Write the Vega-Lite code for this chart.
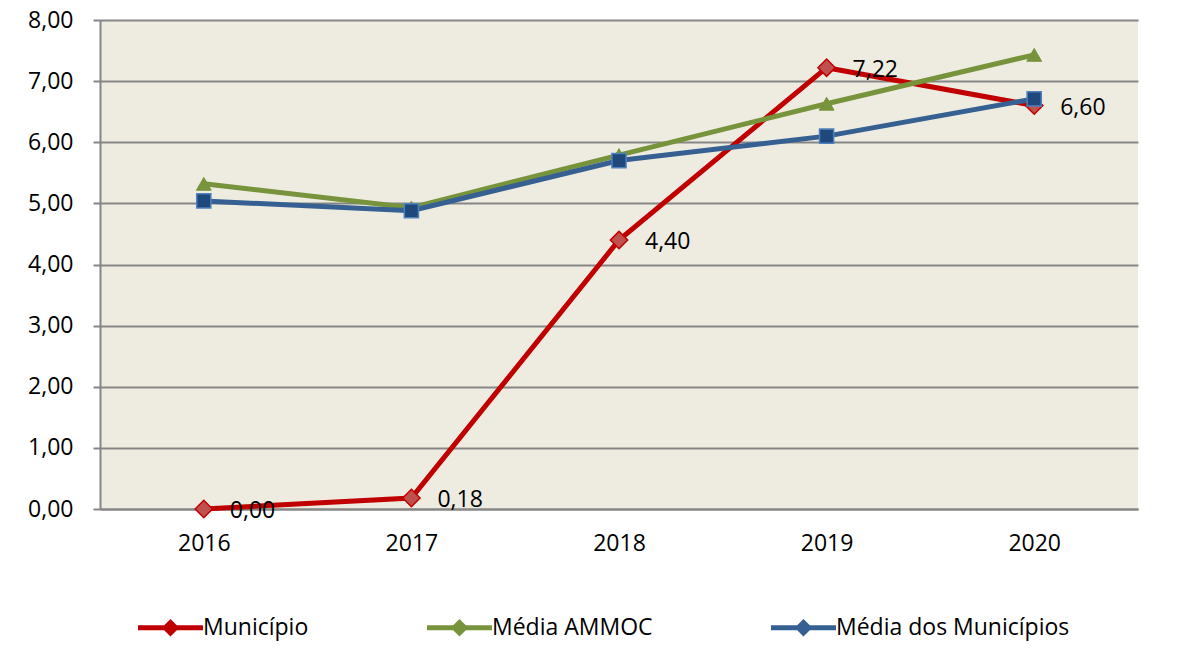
{
  "$schema": "https://vega.github.io/schema/vega-lite/v6.json",
  "width": 1038,
  "height": 489,
  "autosize": {"type": "none"},
  "padding": {"left": 100, "top": 20, "right": 65, "bottom": 152},
  "background": "#FFFFFF",
  "config": {
    "view": {"fill": "#EEECE1", "stroke": null},
    "font": "Open Sans"
  },
  "data": {
    "values": [
      {"year": "2016", "series": "Município", "v": 0.0},
      {"year": "2017", "series": "Município", "v": 0.18},
      {"year": "2018", "series": "Município", "v": 4.40},
      {"year": "2019", "series": "Município", "v": 7.22},
      {"year": "2020", "series": "Município", "v": 6.60},
      {"year": "2016", "series": "Média AMMOC", "v": 5.32},
      {"year": "2017", "series": "Média AMMOC", "v": 4.93},
      {"year": "2018", "series": "Média AMMOC", "v": 5.79},
      {"year": "2019", "series": "Média AMMOC", "v": 6.63},
      {"year": "2020", "series": "Média AMMOC", "v": 7.43},
      {"year": "2016", "series": "Média dos Municípios", "v": 5.04},
      {"year": "2017", "series": "Média dos Municípios", "v": 4.88},
      {"year": "2018", "series": "Média dos Municípios", "v": 5.70},
      {"year": "2019", "series": "Média dos Municípios", "v": 6.10},
      {"year": "2020", "series": "Média dos Municípios", "v": 6.71}
    ]
  },
  "layer": [
    {
      "mark": {"type": "point", "filled": true, "size": 10, "opacity": 1},
      "encoding": {
        "x": {
          "field": "year", "type": "ordinal",
          "scale": {"type": "point", "padding": 0.5},
          "axis": {
            "title": null, "labelAngle": 0, "ticks": false, "grid": false,
            "domainColor": "#868686", "domainWidth": 2,
            "labelFontSize": 23, "labelColor": "#000000", "labelPadding": 23
          }
        },
        "y": {
          "field": "v", "type": "quantitative",
          "scale": {"domain": [0, 8], "nice": false, "zero": true},
          "axis": {
            "title": null, "values": [0, 1, 2, 3, 4, 5, 6, 7, 8],
            "labelExpr": "replace(format(datum.value, '.2f'), '.', ',')",
            "grid": true, "gridColor": "#868686", "gridWidth": 2,
            "domainColor": "#868686", "domainWidth": 2,
            "tickColor": "#868686", "tickSize": 7, "tickWidth": 2,
            "labelFontSize": 23, "labelColor": "#000000", "labelPadding": 20
          }
        },
        "fill": {
          "field": "series", "type": "nominal",
          "sort": ["Município", "Média AMMOC", "Média dos Municípios"],
          "scale": {"range": ["#C00000", "#77933C", "#376092"]},
          "legend": {
            "title": null, "orient": "none", "direction": "horizontal",
            "legendX": 38, "legendY": 575,
            "symbolType": "M-1,-0.077H1V0.077H-1Z M0,-0.27L0.27,0L0,0.27L-0.27,0Z",
            "symbolSize": 4225, "symbolOpacity": 1, "symbolStrokeWidth": 0,
            "labelFontSize": 23, "labelColor": "#000000", "labelOffset": 0,
            "columnPadding": 118, "labelLimit": 400
          }
        }
      }
    },
    {
      "mark": {"type": "line", "strokeWidth": 5},
      "encoding": {
        "x": {"field": "year", "type": "ordinal"},
        "y": {"field": "v", "type": "quantitative"},
        "color": {
          "field": "series", "type": "nominal",
          "sort": ["Município", "Média AMMOC", "Média dos Municípios"],
          "scale": {"range": ["#C00000", "#77933C", "#376092"]},
          "legend": null
        },
        "order": {"field": "year"}
      }
    },
    {
      "transform": [{"filter": "datum.series == 'Município'"}],
      "mark": {"type": "point", "shape": "diamond", "filled": true, "fill": "#C0504D", "stroke": "#C00000", "strokeWidth": 1.5, "size": 300, "opacity": 1},
      "encoding": {"x": {"field": "year", "type": "ordinal"}, "y": {"field": "v", "type": "quantitative"}}
    },
    {
      "transform": [{"filter": "datum.series == 'Média AMMOC'"}],
      "mark": {"type": "point", "shape": "triangle-up", "filled": true, "fill": "#77933C", "stroke": "#77933C", "strokeWidth": 1, "size": 220, "opacity": 1},
      "encoding": {"x": {"field": "year", "type": "ordinal"}, "y": {"field": "v", "type": "quantitative"}}
    },
    {
      "transform": [{"filter": "datum.series == 'Média dos Municípios'"}],
      "mark": {"type": "point", "shape": "square", "filled": true, "fill": "#1F497D", "stroke": "#4F81BD", "strokeWidth": 1.5, "size": 200, "opacity": 1},
      "encoding": {"x": {"field": "year", "type": "ordinal"}, "y": {"field": "v", "type": "quantitative"}}
    },
    {
      "transform": [
        {"filter": "datum.series == 'Município'"},
        {"calculate": "replace(format(datum.v, '.2f'), '.', ',')", "as": "lbl"}
      ],
      "mark": {"type": "text", "align": "left", "baseline": "middle", "dx": 26, "dy": 2, "fontSize": 23, "color": "#000000"},
      "encoding": {
        "x": {"field": "year", "type": "ordinal"},
        "y": {"field": "v", "type": "quantitative"},
        "text": {"field": "lbl", "type": "nominal"}
      }
    }
  ]
}
